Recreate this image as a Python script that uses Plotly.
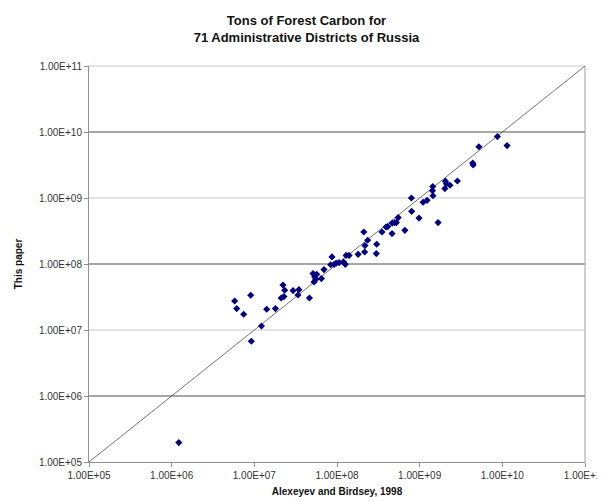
import math
import plotly.graph_objects as go

# Alexeyev and Birdsey, 1998 (x) vs This paper (y), tons of carbon
alexeyev = [
    1.22e6, 5.78e6, 6.12e6, 7.43e6, 9.04e6, 9.2e6, 1.22e7, 1.41e7, 1.80e7, 2.11e7,
    2.28e7, 2.22e7, 2.33e7, 2.94e7, 3.46e7, 3.37e7, 4.64e7, 5.13e7, 5.37e7, 5.27e7,
    5.52e7, 6.47e7, 6.96e7, 8.69e7, 8.39e7, 9.25e7, 9.78e7, 1.06e8, 1.20e8, 1.26e8,
    1.29e8, 1.40e8, 1.80e8, 2.11e8, 2.18e8, 2.16e8, 2.35e8, 3.02e8, 2.99e8, 3.50e8,
    3.92e8, 4.11e8, 4.63e8, 4.65e8, 4.99e8, 5.23e8, 5.50e8, 6.62e8, 8.0e8, 9.82e8,
    7.94e8, 1.67e9, 1.10e9, 1.23e9, 1.44e9, 1.43e9, 1.45e9, 2.05e9, 2.10e9, 2.02e9,
    2.33e9, 2.86e9, 4.38e9, 4.44e9, 5.20e9, 8.71e9, 1.14e10, 5.68e7,
]
this_paper = [
    1.97e5, 2.75e7, 2.11e7, 1.73e7, 3.36e7, 6.75e6, 1.15e7, 2.06e7, 2.11e7, 3.05e7,
    3.21e7, 4.81e7, 4.0e7, 3.95e7, 4.09e7, 3.39e7, 3.05e7, 7.16e7, 6.35e7, 5.34e7,
    5.81e7, 6.01e7, 8.22e7, 1.28e8, 9.73e7, 9.89e7, 1.03e8, 1.05e8, 1.07e8, 9.89e7,
    1.35e8, 1.35e8, 1.40e8, 3.05e8, 1.90e8, 1.52e8, 2.29e8, 1.99e8, 1.44e8, 3.05e8,
    3.64e8, 3.69e8, 2.89e8, 4.14e8, 4.24e8, 4.24e8, 5.05e8, 3.24e8, 6.28e8, 4.96e8,
    1.0e9, 4.24e8, 8.61e8, 9.23e8, 1.49e9, 1.29e9, 1.08e9, 1.80e9, 1.65e9, 1.39e9,
    1.56e9, 1.81e9, 3.39e9, 3.16e9, 5.97e9, 8.51e9, 6.22e9, 6.98e7,
]
line_ends = [1e5, 1e11]
tick_vals = [1e5, 1e6, 1e7, 1e8, 1e9, 1e10, 1e11]
tick_text = ["1.00E+05", "1.00E+06", "1.00E+07", "1.00E+08", "1.00E+09", "1.00E+10", "1.00E+11"]

FONT = "Liberation Sans, Arial, sans-serif"
LOG_MIN, LOG_MAX = 5, 11

fig = go.Figure()
fig.add_trace(go.Scatter(
    x=line_ends, y=line_ends, mode="lines",
    line=dict(color="#505050", width=0.8), hoverinfo="skip", showlegend=False,
))
fig.add_trace(go.Scatter(
    x=alexeyev, y=this_paper, mode="markers",
    marker=dict(symbol="diamond", size=5.5, color="#000080", line=dict(width=0)),
    showlegend=False,
))

# horizontal gridlines: alternating light/dark as in the reference
shapes = []
for v in tick_vals[1:]:
    exp = math.log10(v)
    frac = (exp - LOG_MIN) / (LOG_MAX - LOG_MIN)
    dark = (int(round(exp)) % 2 == 0)
    shapes.append(dict(
        type="line", xref="x domain", x0=0, x1=1, yref="y domain", y0=frac, y1=frac,
        line=dict(color="#8a8a8a" if dark else "#c8c8c8", width=1.6 if dark else 1.2),
        layer="below",
    ))
# right border of plot area
shapes.append(dict(type="line", xref="x domain", x0=1, x1=1, yref="y domain", y0=0, y1=1,
                   line=dict(color="#a0a0a0", width=1), layer="below"))

fig.update_layout(
    width=597, height=493,
    margin=dict(l=81, r=20, t=58, b=39, autoexpand=False),
    paper_bgcolor="white", plot_bgcolor="white",
    title=dict(
        text="<b>Tons of Forest Carbon for<br>71 Administrative Districts of Russia</b>",
        x=0.5, xanchor="center", y=0.966, yanchor="top",
        font=dict(family=FONT, size=13, color="#111"),
    ),
    shapes=shapes,
    font=dict(family=FONT, size=10, color="#333"),
)
fig.update_xaxes(
    type="log", range=[LOG_MIN, LOG_MAX], tickvals=tick_vals, ticktext=tick_text,
    showgrid=False, zeroline=False, showline=True, linecolor="#909090", linewidth=1,
    ticks="outside", ticklen=4, tickcolor="#909090", automargin=False,
    ticklabeloverflow="allow",
    tickfont=dict(family=FONT, size=10, color="#333"),
    title=dict(text="<b>Alexeyev and Birdsey, 1998</b>", standoff=7,
               font=dict(family=FONT, size=10, color="#111")),
)
fig.update_yaxes(
    type="log", range=[LOG_MIN, LOG_MAX], tickvals=tick_vals, ticktext=tick_text,
    showgrid=False, zeroline=False, showline=True, linecolor="#909090", linewidth=1,
    ticks="outside", ticklen=4, tickcolor="#909090", automargin=False,
    tickfont=dict(family=FONT, size=10, color="#333"),
    title=dict(text="<b>This paper</b>", standoff=14,
               font=dict(family=FONT, size=10, color="#111")),
)

fig.write_html("out.html")
